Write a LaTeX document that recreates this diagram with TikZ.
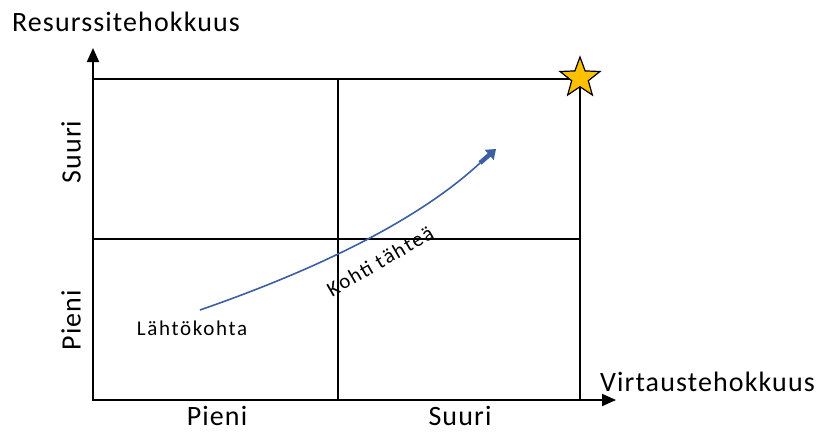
\documentclass[tikz,border=0pt]{standalone}
\usepackage{fontspec}
\setmainfont{Carlito}
\usepackage{tikz}
\usetikzlibrary{arrows.meta,shapes.geometric}
\definecolor{PathBlue}{HTML}{3B5FA3}
\definecolor{StarGold}{HTML}{FFC000}

\begin{document}
\begin{tikzpicture}[x=1pt,y=-1pt,
  axis/.style={line width=2pt,-{Triangle[length=14pt,width=12pt]}},
  grid/.style={line width=2pt},
  lbl/.style={font=\fontsize{28}{30}\selectfont\addfontfeature{LetterSpace=4},inner sep=0pt},
  small/.style={font=\fontsize{21}{23}\selectfont\addfontfeature{LetterSpace=8},inner sep=0pt}
]
\useasboundingbox (0,0) rectangle (819,434);
% corners of the field
\coordinate (o) at (93,400);
\coordinate (ytop) at (93,48);
\coordinate (xend) at (616,400);
% quadrants
\draw[grid] (93,79) rectangle (580,400);
\draw[grid] (338,79) -- (338,400);
\draw[grid] (93,239) -- (580,239);
% axes
\draw[axis] (o) -- (ytop);
\draw[axis] (o) -- (xend);
\node[lbl] (yname) at (126,22) {Resurssitehokkuus};
\node[lbl,anchor=east] (xname) at (815,382) {Virtaustehokkuus};
\node[lbl] (xlow) at (217,416) {Pieni};
\node[lbl] (xhigh) at (460,416) {Suuri};
\node[lbl,rotate=90] (yhigh) at (71,152) {Suuri};
\node[lbl,rotate=90] (ylow) at (71,320) {Pieni};
% goal
\node[star,star points=5,star point ratio=2.4,minimum size=42pt,inner sep=0pt,
  draw=black,line width=1.2pt,fill=StarGold] (goal) at (580,78) {};
% route
\node[small] (start) at (192,328) {Lähtökohta};
\coordinate (c0) at (200,310);
\coordinate (c1) at (480,163);
\coordinate (c2) at (496,149);
\draw[PathBlue,line width=1.6pt] (c0) .. controls (295,277) and (410,228) .. (c1);
\draw[PathBlue,line width=4.5pt,-{Triangle[length=9pt,width=13pt]}] (c1) -- (c2);
\node[small,rotate=30] (route) at (380,261) {Kohti tähteä};
\end{tikzpicture}
\end{document}
